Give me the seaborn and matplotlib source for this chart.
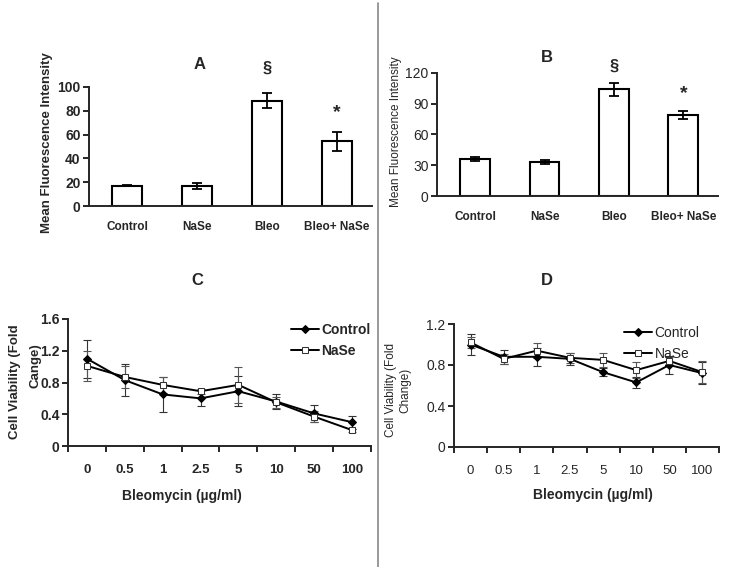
import matplotlib
matplotlib.use("Agg")
import matplotlib.pyplot as plt
import numpy as np
import seaborn as sns
from matplotlib.lines import Line2D

# panels A and B: mean fluorescence intensity
groups = ["Control", "NaSe", "Bleo", "Bleo+ NaSe"]
mfi_a = [17, 16.5, 88.5, 54.5]
mfi_a_err = [0.6, 2.5, 6.5, 8.0]
mfi_b = [36, 33, 104, 79]
mfi_b_err = [2.0, 2.0, 6.0, 3.5]
marks = ["", "", "§", "*"]

# panels C and D: cell viability vs bleomycin dose
doses = ["0", "0.5", "1", "2.5", "5", "10", "50", "100"]
via_c_control = [1.10, 0.83, 0.65, 0.60, 0.69, 0.56, 0.41, 0.30]
via_c_control_err = [0.24, 0.20, 0.22, 0.10, 0.19, 0.10, 0.11, 0.08]
via_c_nase = [1.01, 0.87, 0.77, 0.69, 0.77, 0.55, 0.37, 0.20]
via_c_nase_err = [0.19, 0.14, 0.10, 0.03, 0.23, 0.07, 0.07, 0.02]
via_d_control = [1.00, 0.88, 0.88, 0.86, 0.73, 0.63, 0.80, 0.72]
via_d_control_err = [0.10, 0.07, 0.09, 0.06, 0.04, 0.05, 0.09, 0.11]
via_d_nase = [1.02, 0.86, 0.94, 0.87, 0.85, 0.75, 0.84, 0.73]
via_d_nase_err = [0.05, 0.05, 0.07, 0.05, 0.07, 0.08, 0.04, 0.11]

sns.set_style("ticks")
plt.rcParams["font.family"] = ["Liberation Sans", "DejaVu Sans"]
plt.rcParams["axes.linewidth"] = 1.4

W, H = 729, 567
fig = plt.figure(figsize=(W / 100, H / 100), dpi=100)


def px_axes(left, right, bottom, top):
    # axes box from pixel edges of the reference
    return fig.add_axes([left / W, 1 - bottom / H, (right - left) / W, (bottom - top) / H])


def bar_panel(ax, vals, errs, ymax, step, weight, mark_offsets):
    sns.barplot(x=groups, y=vals, color="white", edgecolor="black", linewidth=1.5,
                width=0.43, saturation=1, errorbar=None, ax=ax)
    x = np.arange(len(groups))
    ax.errorbar(x, vals, yerr=errs, fmt="none", ecolor="black", elinewidth=1.3, capsize=3.5, capthick=1.3)
    for i, m in enumerate(marks):
        if m:
            ax.annotate(m, (i, vals[i] + errs[i]), xytext=(0, mark_offsets[m]), textcoords="offset points",
                        ha="center", va="center", fontsize=12 if m == "§" else 14, fontweight="bold")
    ax.set_ylim(0, ymax)
    ax.set_yticks(np.arange(0, ymax + 1, step))
    ax.set_xlim(-0.55, 3.5)
    ax.set_xlabel("")
    ax.set_ylabel("")
    ax.tick_params(axis="x", length=0, pad=11, labelsize=8.5)
    for t in ax.get_xticklabels():
        t.set_fontweight("bold")
    ax.tick_params(axis="y", length=4, width=1.4, pad=2, labelsize=10)
    for t in ax.get_yticklabels():
        t.set_fontweight(weight)
    sns.despine(ax=ax)


def line_panel(ax, ctrl, ctrl_err, nase, nase_err, ymax, step, weight):
    x = np.arange(len(doses))
    ax.errorbar(x, ctrl, yerr=ctrl_err, fmt="none", ecolor="#333333", elinewidth=0.8, capsize=3, capthick=0.8)
    ax.errorbar(x, nase, yerr=nase_err, fmt="none", ecolor="#555555", elinewidth=0.8, capsize=3, capthick=0.8)
    sns.lineplot(x=x, y=ctrl, color="black", linewidth=1.4, marker="D", markersize=4,
                 markerfacecolor="black", markeredgecolor="black", label="Control", ax=ax)
    sns.lineplot(x=x, y=nase, color="black", linewidth=1.4, marker="s", markersize=4.5,
                 markerfacecolor="white", markeredgecolor="#333333", label="NaSe", ax=ax)
    ax.set_ylim(0, ymax)
    ax.set_yticks(np.arange(0, ymax + 1e-9, step))
    ax.set_yticklabels(["0" if v == 0 else f"{v:.1f}" for v in np.arange(0, ymax + 1e-9, step)])
    ax.set_xlim(-0.5, len(doses) - 0.5)
    ax.set_xticks(x)
    ax.set_xticklabels(doses)
    ax.set_xticks(np.arange(-0.5, len(doses)), minor=True)
    ax.tick_params(axis="x", which="major", length=0, pad=13, labelsize=9.5)
    ax.tick_params(axis="x", which="minor", length=4, width=1.4, direction="out")
    ax.tick_params(axis="y", length=4, width=1.4, pad=2, labelsize=10)
    for t in ax.get_xticklabels() + ax.get_yticklabels():
        t.set_fontweight(weight)
    ax.set_xlabel("")
    ax.set_ylabel("")
    sns.despine(ax=ax)


# A
ax_a = px_axes(89, 372, 206, 87)
bar_panel(ax_a, mfi_a, mfi_a_err, 100, 20, "bold", {"§": 18, "*": 14})
fig.text(200 / W, 1 - 65 / H, "A", ha="center", va="center", fontsize=12, fontweight="bold")
fig.text(47 / W, 1 - 143 / H, "Mean Fluorescence Intensity", rotation=90, ha="center", va="center",
         fontsize=9.5, fontweight="bold")

# B
ax_b = px_axes(437, 718, 196, 73)
bar_panel(ax_b, mfi_b, mfi_b_err, 120, 30, "normal", {"§": 12, "*": 13})
fig.text(547 / W, 1 - 58 / H, "B", ha="center", va="center", fontsize=12, fontweight="bold")
fig.text(396 / W, 1 - 132 / H, "Mean Fluorescence Intensity", rotation=90, ha="center", va="center",
         fontsize=8.5)

# C
ax_c = px_axes(68, 371, 446, 319)
line_panel(ax_c, via_c_control, via_c_control_err, via_c_nase, via_c_nase_err, 1.6, 0.4, "bold")
ax_c.legend(loc="upper left", bbox_to_anchor=(284 / W, 1 - 316 / H), bbox_transform=fig.transFigure,
            frameon=False, borderpad=0, handlelength=2.0, handletextpad=0.2, labelspacing=0.5,
            prop={"size": 10, "weight": "bold"})
fig.text(197 / W, 1 - 281 / H, "C", ha="center", va="center", fontsize=12, fontweight="bold")
fig.text(15 / W, 1 - 382 / H, "Cell Viability (Fold", rotation=90, ha="center", va="center",
         fontsize=9.5, fontweight="bold")
fig.text(35 / W, 1 - 366 / H, "Cange)", rotation=90, ha="center", va="center",
         fontsize=9.5, fontweight="bold")
fig.text(182 / W, 1 - 496 / H, "Bleomycin (µg/ml)", ha="center", va="center", fontsize=10, fontweight="bold")

# D
ax_d = px_axes(454, 719, 447, 324)
line_panel(ax_d, via_d_control, via_d_control_err, via_d_nase, via_d_nase_err, 1.2, 0.4, "normal")
ax_d.legend(loc="upper left", bbox_to_anchor=(617 / W, 1 - 319 / H), bbox_transform=fig.transFigure,
            frameon=False, borderpad=0, handlelength=2.0, handletextpad=0.2, labelspacing=0.5,
            prop={"size": 10})
fig.text(547 / W, 1 - 281 / H, "D", ha="center", va="center", fontsize=12, fontweight="bold")
fig.text(398 / W, 1 - 390 / H, "Cell Viability (Fold\nChange)", rotation=90, ha="center", va="center",
         fontsize=8.5, linespacing=1.2)
fig.text(593 / W, 1 - 495 / H, "Bleomycin (µg/ml)", ha="center", va="center", fontsize=10, fontweight="bold")

# divider between left and right halves
fig.add_artist(Line2D([377.5 / W, 377.5 / W], [0, 0.995], color="#888888", linewidth=1.2))

fig.savefig("out.png", dpi=100)
